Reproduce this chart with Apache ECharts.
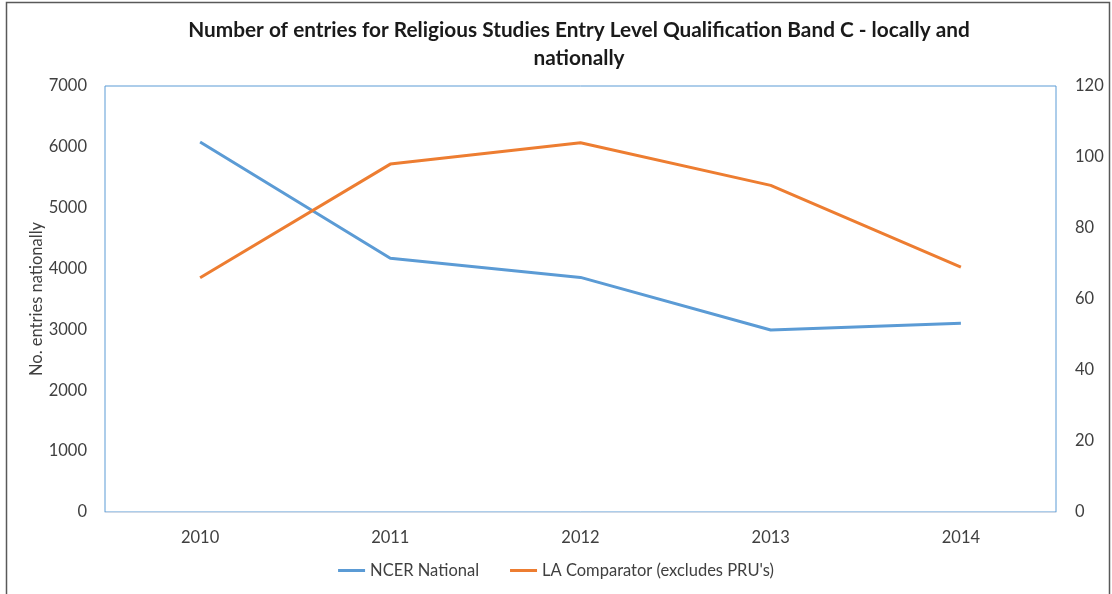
<!DOCTYPE html>
<html><head><meta charset="utf-8">
<script src="https://cdn.jsdelivr.net/npm/echarts@6/dist/echarts.min.js"></script>
<style>html,body{margin:0;padding:0;background:#fff}#c{width:1112px;height:594px}</style>
</head><body><div id="c"></div>
<script>
const categories = ['2010','2011','2012','2013','2014'];
const ncerNational = [6080, 4170, 3855, 2990, 3100];
const laComparator = [66, 98, 104, 92, 69];
const leftTicks = [0, 7000, 1000];
const rightTicks = [0, 120, 20];

const chart = echarts.init(document.getElementById('c'));
const font = 'Lato, "Open Sans", sans-serif';
chart.setOption({
  animation: false,
  textStyle: {fontFamily: font},
  title: {
    text: 'Number of entries for Religious Studies Entry Level Qualification Band C - locally and\nnationally',
    left: 574, top: 11, textAlign: 'center',
    textStyle: {fontSize: 20.8, fontWeight: 'bold', color: '#1a1a1a', lineHeight: 28, fontFamily: font}
  },
  graphic: [{type:'rect', shape:{x:6.5,y:2.5,width:1103,height:620}, style:{fill:null, stroke:'#595959', lineWidth:1.5}, silent:true}],
  legend: {
    bottom: 10, left: 'center', itemWidth: 27, itemHeight: 3, itemGap: 31,
    icon: 'rect',
    textStyle: {fontSize: 16.5, color: '#404040', fontFamily: font},
    data: ['NCER National', "LA Comparator (excludes PRU's)"]
  },
  grid: {left: 105, right: 56, top: 86, bottom: 82, show: true, borderColor: '#5b9bd5', borderWidth: 1},
  xAxis: {
    type: 'category', data: categories, boundaryGap: true,
    axisLine: {lineStyle: {color: '#d0d9e6'}}, axisTick: {show: false},
    axisLabel: {fontSize: 16.5, color: '#404040', margin: 17}
  },
  yAxis: [{
    type: 'value', min: leftTicks[0], max: leftTicks[1], interval: leftTicks[2],
    name: 'No. entries nationally', nameLocation: 'middle', nameGap: 60, nameMoveOverlap: false,
    nameTextStyle: {fontSize: 16.5, color: '#404040'},
    axisLine: {show: false}, axisTick: {show: false}, splitLine: {show: false},
    axisLabel: {fontSize: 16.5, color: '#404040', margin: 18, formatter: v => String(v)}
  }, {
    type: 'value', min: rightTicks[0], max: rightTicks[1], interval: rightTicks[2],
    axisLine: {show: false}, axisTick: {show: false}, splitLine: {show: false},
    axisLabel: {fontSize: 16.5, color: '#404040', margin: 19, formatter: v => String(v)}
  }],
  series: [{
    name: 'NCER National', type: 'line', data: ncerNational, yAxisIndex: 0,
    symbol: 'none', lineStyle: {color: '#5b9bd5', width: 3}, itemStyle: {color: '#5b9bd5'}
  }, {
    name: "LA Comparator (excludes PRU's)", type: 'line', data: laComparator, yAxisIndex: 1,
    symbol: 'none', lineStyle: {color: '#ed7d31', width: 3}, itemStyle: {color: '#ed7d31'}
  }]
});
</script></body></html>
